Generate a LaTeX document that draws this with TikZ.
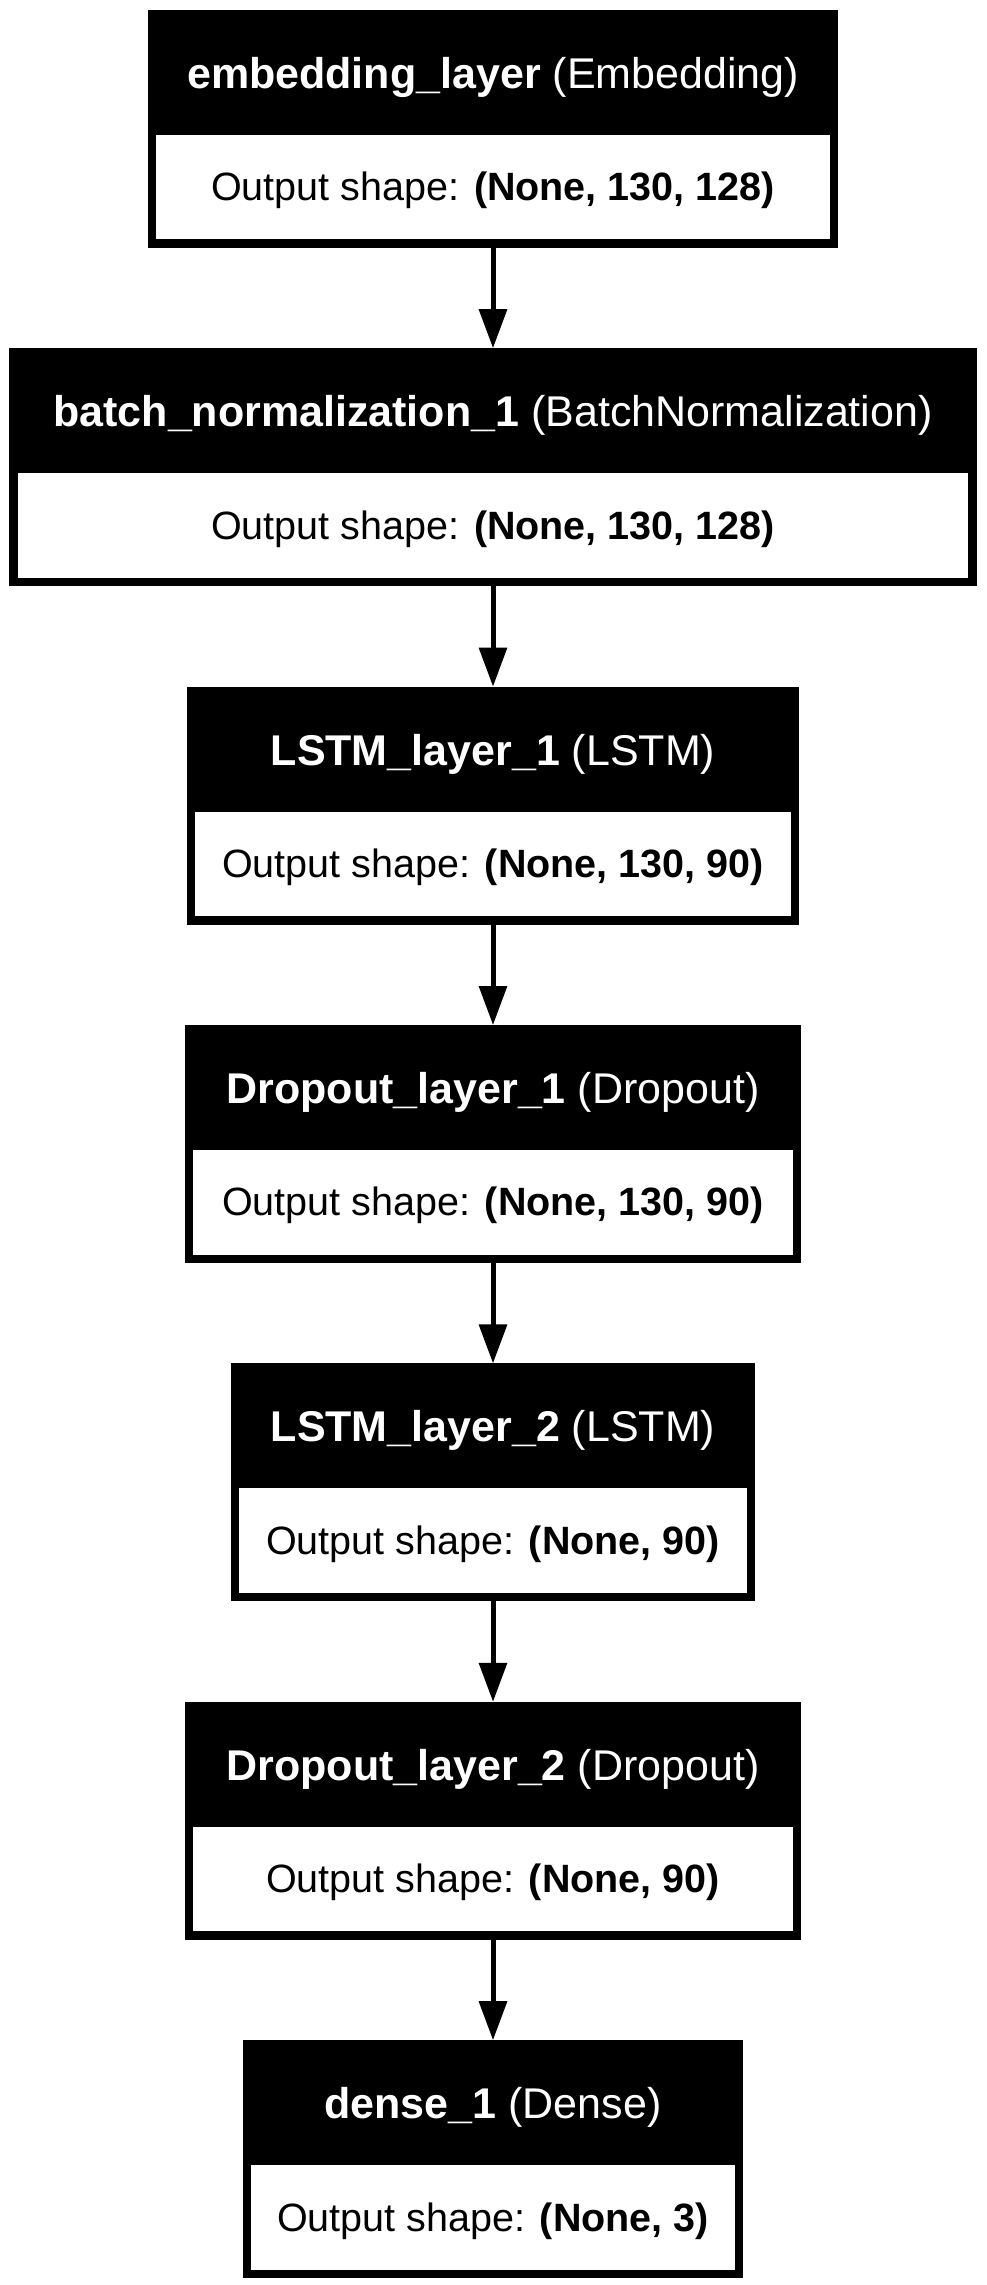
\documentclass[tikz,border=0pt]{standalone}
\usepackage{fontspec}
\setmainfont{Liberation Sans}
\usepackage{tikz}
\usetikzlibrary{positioning,arrows.meta}
\tikzset{
  layerhead/.style={fill=black,text=white,inner sep=0pt,outer sep=0pt,minimum height=120.8pt,minimum width=#1,text height=36pt,text depth=0pt,font=\fontsize{43}{50}\selectfont},
  layerout/.style={draw=black,fill=white,line width=8.4pt,inner sep=0pt,outer sep=0pt,minimum height=113pt,minimum width=#1,text height=27pt,text depth=0pt,font=\fontsize{39.5}{46}\selectfont},
  flow/.style={line width=5pt,-{Triangle[length=39pt,width=27.4pt]}}
}
\begin{document}
\begin{tikzpicture}[node distance=104.6pt]
\useasboundingbox (0,0) rectangle (986pt,-2285pt);
\node[layerhead=690pt,anchor=north] (emb) at (493pt,-9.8pt) {\textbf{embedding\_layer} (Embedding)};
\node[layerout=681.6pt,below=0pt of emb] (embOut) {Output shape: \textbf{(None, 130, 128)}};
\node[layerhead=967.4pt,below=of embOut] (bn) {\textbf{batch\_normalization\_1} (BatchNormalization)};
\node[layerout=959pt,below=0pt of bn] (bnOut) {Output shape: \textbf{(None, 130, 128)}};
\node[layerhead=612pt,below=of bnOut] (lstmA) {\textbf{LSTM\_layer\_1} (LSTM)};
\node[layerout=603.6pt,below=0pt of lstmA] (lstmAOut) {Output shape: \textbf{(None, 130, 90)}};
\node[layerhead=616.6pt,below=of lstmAOut] (dropA) {\textbf{Dropout\_layer\_1} (Dropout)};
\node[layerout=608.2pt,below=0pt of dropA] (dropAOut) {Output shape: \textbf{(None, 130, 90)}};
\node[layerhead=524.6pt,below=of dropAOut] (lstmB) {\textbf{LSTM\_layer\_2} (LSTM)};
\node[layerout=516.2pt,below=0pt of lstmB] (lstmBOut) {Output shape: \textbf{(None, 90)}};
\node[layerhead=616.6pt,below=of lstmBOut] (dropB) {\textbf{Dropout\_layer\_2} (Dropout)};
\node[layerout=608.2pt,below=0pt of dropB] (dropBOut) {Output shape: \textbf{(None, 90)}};
\node[layerhead=500pt,below=of dropBOut] (dense) {\textbf{dense\_1} (Dense)};
\node[layerout=491.6pt,below=0pt of dense] (denseOut) {Output shape: \textbf{(None, 3)}};
\draw[flow] (embOut) -- (bn);
\draw[flow] (bnOut) -- (lstmA);
\draw[flow] (lstmAOut) -- (dropA);
\draw[flow] (dropAOut) -- (lstmB);
\draw[flow] (lstmBOut) -- (dropB);
\draw[flow] (dropBOut) -- (dense);
\end{tikzpicture}
\end{document}
